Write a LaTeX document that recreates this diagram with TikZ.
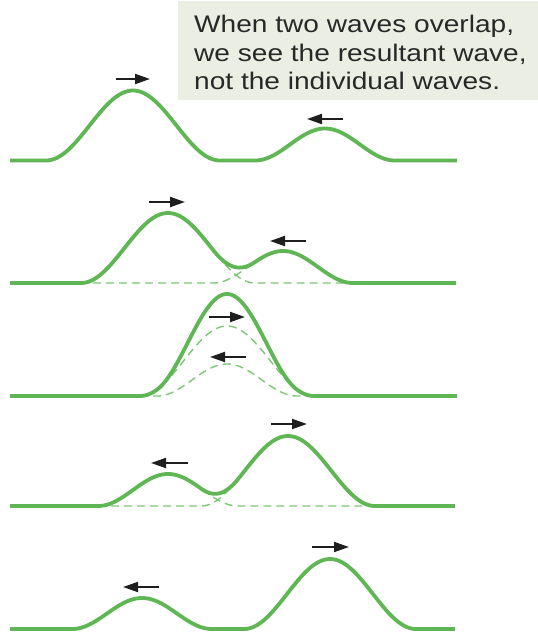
\documentclass[tikz,border=0pt]{standalone}
\usepackage{fontspec}
\setmainfont[FakeStretch=1.17]{Liberation Sans}
\usetikzlibrary{arrows.meta}
\definecolor{wavegreen}{RGB}{96,182,84}
\definecolor{dashgreen}{RGB}{125,198,115}
\definecolor{boxbg}{RGB}{235,239,227}
\definecolor{txt}{RGB}{40,40,40}
\definecolor{arr}{RGB}{30,30,30}
\tikzset{
  wave/.style={draw=wavegreen, line width=3.8pt, line join=round},
  indiv/.style={draw=dashgreen, line width=1.4pt, dash pattern=on 8pt off 5pt},
  motion/.style={draw=arr, line width=2pt, -{Triangle[length=15pt,width=10pt]}},
  caption/.style={anchor=base west, inner sep=0pt, text=txt, font=\fontsize{24}{29}\selectfont},
  declare function={pulse(\xx,\cc,\ww,\hh)=(abs(\xx-\cc)<\ww)?(\hh*(1+cos(180/\ww*(\xx-\cc)))/2):0;}
}
\begin{document}
\begin{tikzpicture}[x=1pt,y=-1pt]
\useasboundingbox (0,0) rectangle (538,633);
% caption box
\path[fill=boxbg] (178,1) rectangle (538,100);
\node[caption] (t1) at (194,32) {When two waves overlap,};
\node[caption] (t2) at (194,61) {we see the resultant wave,};
\node[caption] (t3) at (194,89.5) {not the individual waves.};
% row 1
\draw[wave] plot[domain=10:457, samples=300] (\x,{160.5-pulse(\x,133,87,70)-pulse(\x,325,70,32)});
\draw[motion] (116,79) -- (150,79);
\draw[motion] (343,119) -- (307,119);
% row 2
\draw[indiv] plot[domain=80:352, samples=200] (\x,{283-pulse(\x,168,87,70)});
\draw[indiv] plot[domain=80:352, samples=200] (\x,{283-pulse(\x,283,70,32)});
\draw[wave] plot[domain=10:456, samples=300] (\x,{283-pulse(\x,168,87,70)-pulse(\x,283,70,32)});
\draw[motion] (149,202) -- (185,202);
\draw[motion] (306,241) -- (270,241);
% row 3
\draw[indiv] plot[domain=140:314, samples=150] (\x,{396-pulse(\x,227,87,70)});
\draw[indiv] plot[domain=140:314, samples=150] (\x,{396-pulse(\x,227,70,32)});
\draw[wave] plot[domain=10:457, samples=300] (\x,{396-pulse(\x,227,87,70)-pulse(\x,227,70,32)});
\draw[motion] (209,317) -- (245,317);
\draw[motion] (246,357) -- (210,357);
% row 4
\draw[indiv] plot[domain=98:376, samples=200] (\x,{506-pulse(\x,168,70,32)});
\draw[indiv] plot[domain=98:376, samples=200] (\x,{506-pulse(\x,288,87,70)});
\draw[wave] plot[domain=10:455, samples=300] (\x,{506-pulse(\x,168,70,32)-pulse(\x,288,87,70)});
\draw[motion] (188,463) -- (151,463);
\draw[motion] (271,424) -- (307,424);
% row 5
\draw[wave] plot[domain=10:455, samples=300] (\x,{629-pulse(\x,142,70,31)-pulse(\x,330,86,70)});
\draw[motion] (159,587) -- (123,587);
\draw[motion] (312,547) -- (349,547);
\end{tikzpicture}
\end{document}
